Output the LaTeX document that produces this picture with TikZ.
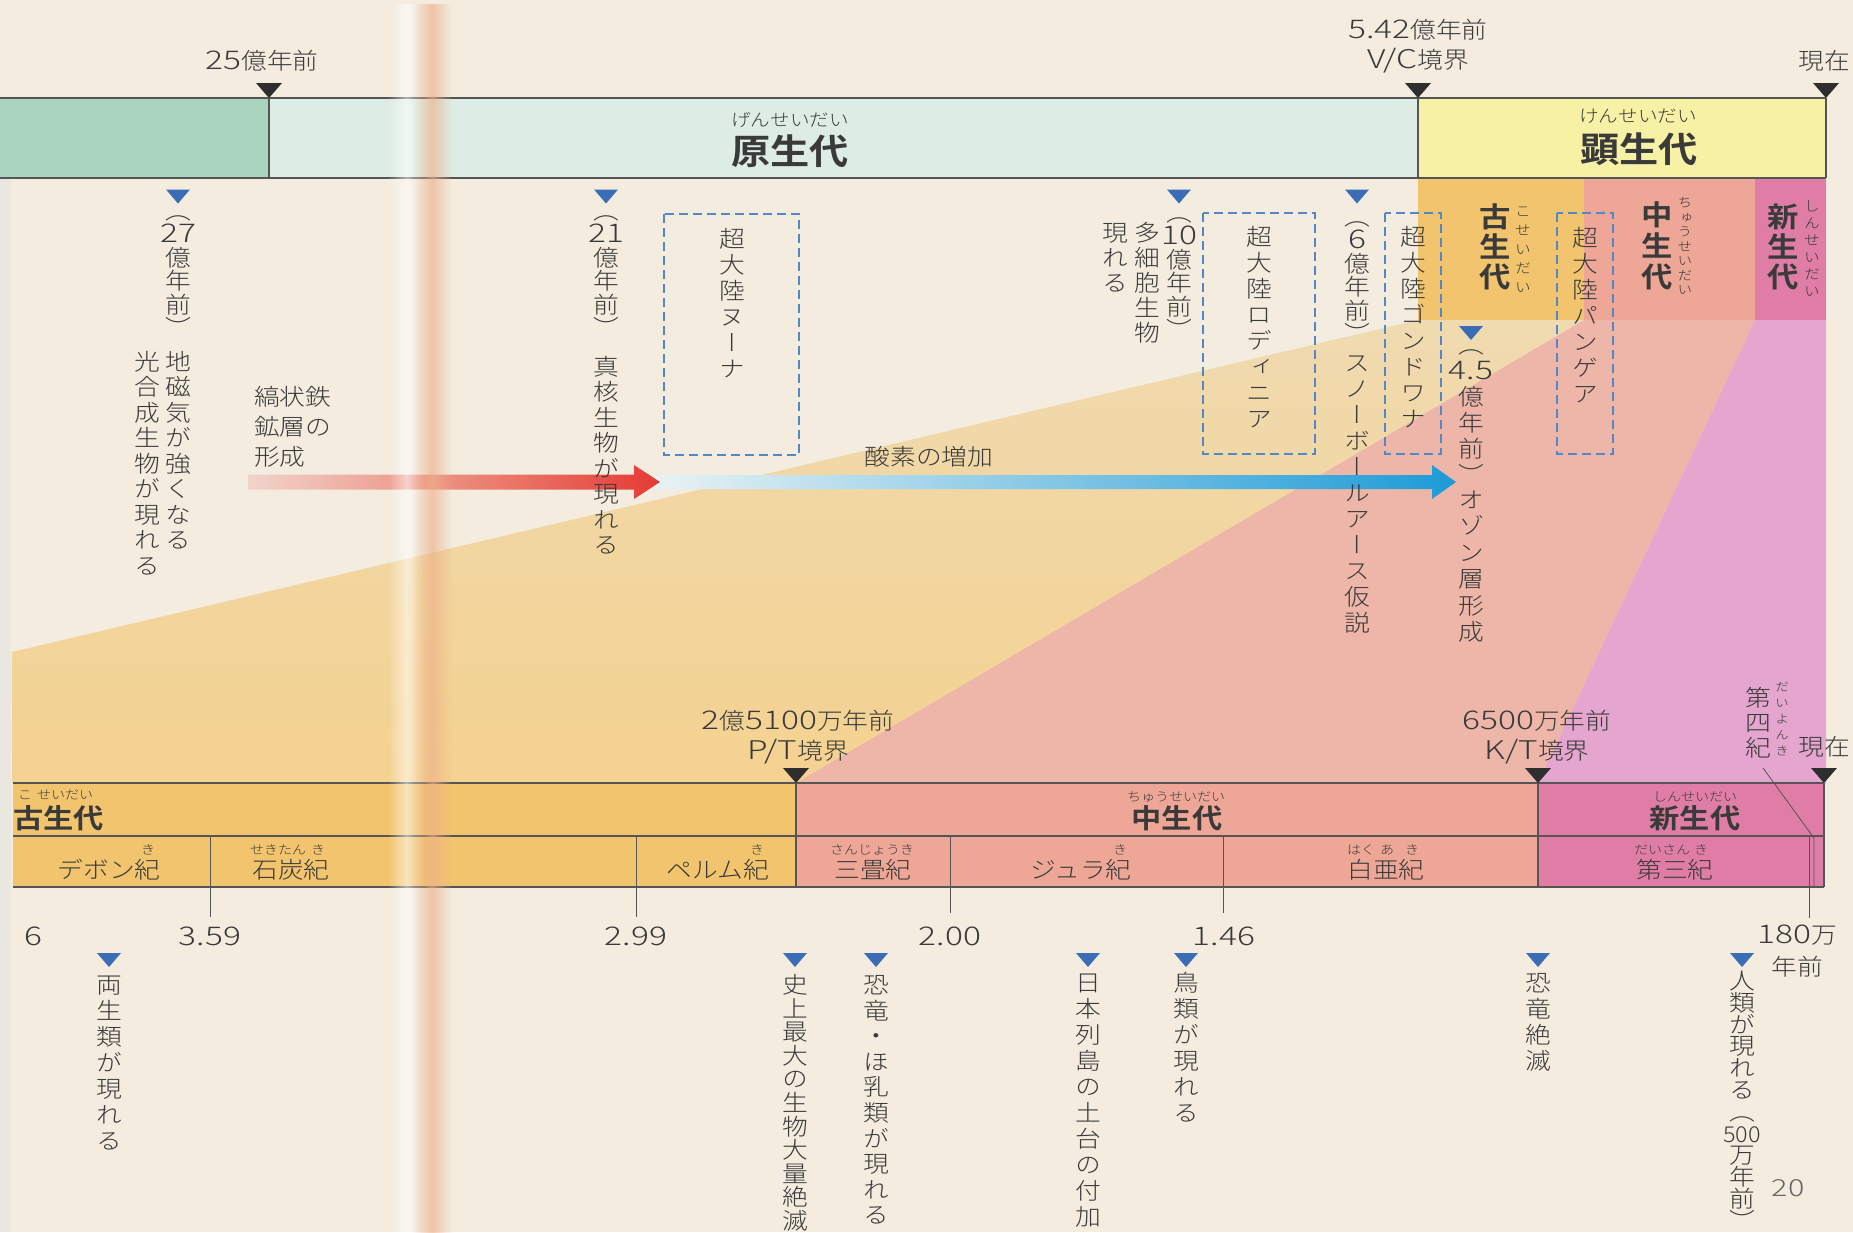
\documentclass[tikz,border=0pt]{standalone}
\usepackage{fontspec}
\usepackage{graphicx}
\IfFontExistsTF{Noto Sans CJK JP Light}{\def\basefnt{Noto Sans CJK JP Light}}{\def\basefnt{Noto Sans CJK JP}}
\setmainfont{\basefnt}[FakeStretch=1.12,BoldFont={Noto Sans CJK JP Bold}]
\newfontfamily\vjp{\basefnt}[FakeStretch=1.12,RawFeature=+vert,BoldFont={Noto Sans CJK JP Bold}]
\newfontfamily\numf{\basefnt}[Scale=1.12,FakeStretch=1.3]
\newcommand\nm[1]{{\numf #1}}
\usetikzlibrary{fadings}
\definecolor{bgc}{HTML}{F3ECDF}
\definecolor{tc}{HTML}{3A3A3A}
\definecolor{trk}{HTML}{2E2E2E}
\definecolor{triblue}{HTML}{3A6DB5}
\definecolor{dashblue}{HTML}{5387C6}
\definecolor{grnD}{HTML}{A8D4C0}
\definecolor{grnL}{HTML}{DDEDE5}
\definecolor{yelK}{HTML}{F6F1A4}
\definecolor{paleoC}{HTML}{F2C46E}
\definecolor{mesoC}{HTML}{EEA797}
\definecolor{cenoC}{HTML}{E07DA6}
\definecolor{wedgeYt}{HTML}{F0DAB0}
\definecolor{wedgeYb}{HTML}{F4D290}
\definecolor{wedgeP}{HTML}{EDB6A8}
\definecolor{wedgeM}{HTML}{E4A5CE}
\definecolor{redL}{HTML}{F2D3CB}
\definecolor{redM}{HTML}{EC8C7C}
\definecolor{redR}{HTML}{E53A34}
\definecolor{bluL}{HTML}{E8F2F4}
\definecolor{bluR}{HTML}{1C9BD7}
\definecolor{gutc}{HTML}{EDB088}
\definecolor{edgec}{HTML}{E9E7DF}
\definecolor{linec}{HTML}{555555}
\tikzfading[name=gutfade, left color=transparent!100, right color=transparent!100, middle color=transparent!0]
\makeatletter
\newcommand\vtx[2]{\vbox{\baselineskip=#1\relax\lineskiplimit=-100pt\lineskip=0pt
 \@tfor\vt@c:=#2\do{\hbox to 1.15em{\hss\vrule height .88em depth .12em width 0pt\vt@c\hss}}}}
\makeatother
\tikzset{
 ktri/.pic={\fill[trk] (-13,-7.5) -- (13,-7.5) -- (0,7.5) -- cycle;},
 btri/.pic={\fill[triblue] (-12,-7) -- (12,-7) -- (0,7) -- cycle;}
}
\begin{document}
\begin{tikzpicture}[x=1pt,y=-1pt,
 every node/.style={inner sep=0pt, text=tc},
 lbl/.style={font=\fontsize{23}{25}\selectfont},
 rubyT/.style={font=\fontsize{17.5}{18}\selectfont},
 rubyS/.style={font=\fontsize{12.5}{13}\selectfont},
 eraT/.style={font=\bfseries\fontsize{35}{38}\selectfont},
 eraB/.style={font=\bfseries\fontsize{27}{29}\selectfont},
 vt/.style={anchor=north, font=\vjp\fontsize{23}{25}\selectfont},
 vtb/.style={anchor=north, font=\vjp\bfseries\fontsize{28}{30}\selectfont},
 vtr/.style={anchor=north, font=\vjp\fontsize{14}{14}\selectfont},
 bar/.style={draw=linec, line width=1.3pt},
 tickl/.style={draw=linec, line width=0.8pt},
 dbox/.style={draw=dashblue, line width=1.8pt, dash pattern=on 9pt off 5pt}
]
\useasboundingbox (0,0) rectangle (1853,1232);
\fill[bgc] (0,0) rectangle (1853,1232);
\fill[edgec] (0,178) rectangle (11,1232);

% wedges
\shade[top color=wedgeYt, bottom color=wedgeYb] (12,652) -- (1418,320) -- (1584,320) -- (796,783) -- (12,783) -- cycle;
\fill[wedgeP] (796,783) -- (1584,320) -- (1755,320) -- (1538,783) -- cycle;
\fill[wedgeM] (1538,783) -- (1755,320) -- (1826,320) -- (1826,783) -- cycle;

% top era columns
\fill[paleoC] (1418,178) rectangle (1584,320);
\fill[mesoC] (1584,178) rectangle (1755,320);
\fill[cenoC] (1755,178) rectangle (1826,320);

% top bar
\fill[grnD] (0,98) rectangle (269,178);
\fill[grnL] (269,98) rectangle (1418,178);
\fill[yelK] (1418,98) rectangle (1826,178);
\draw[bar] (0,98) -- (1826,98) (0,178) -- (1826,178) (269,98) -- (269,178) (1418,98) -- (1418,178) (1826,98) -- (1826,178);

% bottom bar
\fill[paleoC] (13,783) rectangle (796,887);
\fill[mesoC] (796,783) rectangle (1538,887);
\fill[cenoC] (1538,783) rectangle (1824,887);
\draw[bar] (13,783) -- (1824,783) (13,836) -- (1824,836) (13,887) -- (1824,887) (796,783) -- (796,887) (1538,783) -- (1538,887) (1824,783) -- (1824,887);
\draw[tickl] (210,836) -- (210,917) (636,836) -- (636,917) (950,836) -- (950,913) (1223,836) -- (1223,913) (1809,836) -- (1809,918);
\draw[tickl] (1763,768) -- (1814,838) -- (1814,887);

% dashed supercontinent boxes
\draw[dbox] (664,214) rectangle (799,455);
\draw[dbox] (1203,213) rectangle (1315,454);
\draw[dbox] (1385,213) rectangle (1441,454);
\draw[dbox] (1557,213) rectangle (1613,454);

% arrows
\coordinate (bs) at (655,482);
\coordinate (bt) at (1456,482);
\shade[left color=bluL, right color=bluR] (655,475) -- (1432,475) -- (1432,465) -- (bt) -- (1432,499) -- (1432,489) -- (655,489) -- cycle;
\coordinate (rs) at (248,482);
\coordinate (rt) at (660,482);
\shade[left color=redL, right color=redR, middle color=redM] (248,474.5) -- (634,474.5) -- (634,465) -- (rt) -- (634,499) -- (634,489.5) -- (248,489.5) -- cycle;

% black markers
\pic at (269,90.5) {ktri};
\pic at (1418,90.5) {ktri};
\pic at (1826,90.5) {ktri};
\pic at (796,775.5) {ktri};
\pic at (1538,775.5) {ktri};
\pic at (1824,775.5) {ktri};

% blue markers
\pic at (178,196.5) {btri};
\pic at (606,196.5) {btri};
\pic at (1179,196.5) {btri};
\pic at (1357,196.5) {btri};
\pic at (1471,333) {btri};
\pic at (109,960) {btri};
\pic at (795,960) {btri};
\pic at (876,960) {btri};
\pic at (1088,960) {btri};
\pic at (1186,960) {btri};
\pic at (1538,960) {btri};
\pic at (1742,960) {btri};

% labels above top bar
\node[lbl] (t25) at (262,61) {\nm{25}億年前};
\node[lbl] (t542) at (1418,30) {\nm{5.42}億年前};
\node[lbl] (tvc) at (1418,61) {\nm{V/C}境界};
\node[lbl] (tnow) at (1824,61) {現在};

% top bar era names
\node[rubyT] (rgen) at (790,120) {げんせいだい};
\node[eraT] (gen) at (790,151) {原生代};
\node[rubyT] (rken) at (1638,116) {けんせいだい};
\node[eraT] (ken) at (1639,149) {顕生代};

% column era names
\node[vtb] (cko) at (1495,203) {\vtx{30pt}{古生代}};
\node[vtr] (ckor) at (1523,204) {\vtx{19pt}{こせいだい}};
\node[vtb] (cchu) at (1657,201) {\vtx{31pt}{中生代}};
\node[vtr, font=\vjp\fontsize{13}{13}\selectfont] (cchur) at (1685,196) {\vtx{14.5pt}{ちゅうせいだい}};
\node[vtb] (cshin) at (1783,203) {\vtx{30pt}{新生代}};
\node[vtr] (cshinr) at (1812,199) {\vtx{17pt}{しんせいだい}};

% top events
\node[vt] (e27a) at (178,199) {\vtx{23.5pt}{（{\nm{27}}億年前）}};
\node[vt] (e27b) at (178,350) {\vtx{25.5pt}{地磁気が強くなる}};
\node[vt] (e27c) at (147,350) {\vtx{25.5pt}{光合成生物が現れる}};
\node[lbl, anchor=west] (bif1) at (254,397) {縞状鉄};
\node[lbl, anchor=west] (bif2) at (254,427) {鉱層の};
\node[lbl, anchor=west] (bif3) at (254,457) {形成};
\node[vt] (e21a) at (606,199) {\vtx{23.5pt}{（{\nm{21}}億年前）}};
\node[vt] (e21b) at (606,355) {\vtx{25.5pt}{真核生物が現れる}};
\node[vt] (nuna) at (732,227) {\vtx{26pt}{超大陸ヌーナ}};
\node[lbl] (oxy) at (929,457) {酸素の増加};
\node[vt] (e10a) at (1179,201) {\vtx{23.5pt}{（{\nm{10}}億年前）}};
\node[vt] (e10b) at (1147,221) {\vtx{25pt}{多細胞生物}};
\node[vt] (e10c) at (1115,221) {\vtx{25pt}{現れる}};
\node[vt] (rodi) at (1259,225) {\vtx{26pt}{超大陸ロディニア}};
\node[vt] (e6a) at (1357,205) {\vtx{23.5pt}{（{\nm{6}}億年前）}};
\node[vt] (e6b) at (1357,351) {\vtx{26pt}{スノーボールアース仮説}};
\node[vt] (gond) at (1413,225) {\vtx{26pt}{超大陸ゴンドワナ}};
\node[vt] (e45a) at (1471,333) {\vtx{26pt}{（{\nm{4.5}}億年前）}};
\node[vt] (e45b) at (1471,488) {\vtx{26.5pt}{オゾン層形成}};
\node[vt] (pang) at (1585,226) {\vtx{26pt}{超大陸パンゲア}};

% labels above bottom bar
\node[lbl] (pt1) at (798,721) {\nm{2}億\nm{5100}万年前};
\node[lbl] (pt2) at (798,752) {\nm{P/T}境界};
\node[lbl] (kt1) at (1537,721) {\nm{6500}万年前};
\node[lbl] (kt2) at (1537,752) {\nm{K/T}境界};
\node[lbl] (bnow) at (1824,747) {現在};
\node[vt] (q4) at (1758,686) {\vtx{25pt}{第四紀}};
\node[vtr, font=\vjp\fontsize{12}{12}\selectfont] (q4r) at (1782,681) {\vtx{16pt}{だいよんき}};

% bottom bar era names
\node[rubyS, anchor=west] (rbko) at (18,795) {こ\hspace{5pt}せいだい};
\node[eraB, anchor=west] (bko) at (13,818) {古生代};
\node[rubyS] (rbchu) at (1176,797) {ちゅうせいだい};
\node[eraB] (bchu) at (1177,818) {中生代};
\node[rubyS] (rbshin) at (1695,797) {しんせいだい};
\node[eraB] (bshin) at (1695,818) {新生代};

% periods
\node[lbl] (dev) at (109,870) {デボン紀};
\node[rubyS] (devr) at (148,850) {き};
\node[lbl] (carb) at (291,870) {石炭紀};
\node[rubyS] (carbr1) at (278,850) {せきたん};
\node[rubyS] (carbr2) at (318,850) {き};
\node[lbl] (perm) at (718,870) {ペルム紀};
\node[rubyS] (permr) at (757,850) {き};
\node[lbl] (tria) at (873,870) {三畳紀};
\node[rubyS] (triar) at (872,850) {さんじょうき};
\node[lbl] (jur) at (1081,870) {ジュラ紀};
\node[rubyS] (jurr) at (1120,850) {き};
\node[lbl] (cre) at (1386,870) {白亜紀};
\node[rubyS] (crer1) at (1361,850) {はく};
\node[rubyS] (crer2) at (1387,850) {あ};
\node[rubyS] (crer3) at (1412,850) {き};
\node[lbl] (ter) at (1675,870) {第三紀};
\node[rubyS] (terr1) at (1662,850) {だいさん};
\node[rubyS] (terr2) at (1701,850) {き};

% numbers
\node[lbl] (n6) at (33,936) {\nm{6}};
\node[lbl] (n359) at (210,936) {\nm{3.59}};
\node[lbl] (n299) at (636,936) {\nm{2.99}};
\node[lbl] (n200) at (950,936) {\nm{2.00}};
\node[lbl] (n146) at (1224,936) {\nm{1.46}};
\node[lbl] (n180) at (1797,935) {\nm{180}万};
\node[lbl] (n180b) at (1797,967) {年前};

% bottom events
\node[vt] (b1) at (109,973) {\vtx{26pt}{両生類が現れる}};
\node[vt] (b2) at (795,973) {\vtx{23.6pt}{史上最大の生物大量絶滅}};
\node[vt] (b3) at (876,973) {\vtx{25.6pt}{恐竜・ほ乳類が現れる}};
\node[vt] (b4) at (1088,971) {\vtx{26pt}{日本列島の土台の付加}};
\node[vt] (b5) at (1186,971) {\vtx{26pt}{鳥類が現れる}};
\node[vt] (b6) at (1538,971) {\vtx{26pt}{恐竜絶滅}};
\node[vt] (b7) at (1742,969) {\vtx{21.8pt}{人類が現れる（{\scalebox{0.7}[0.85]{\nm{500}}}万年前）}};
\node[lbl, font=\fontsize{21}{21}\selectfont, text=black!60] (pg) at (1788,1188) {\nm{20}};

% book gutter
\fill[white, opacity=0.55, path fading=gutfade] (388,0) rectangle (425,1232);
\fill[gutc, opacity=0.65, path fading=gutfade] (412,0) rectangle (452,1232);
\end{tikzpicture}
\end{document}
